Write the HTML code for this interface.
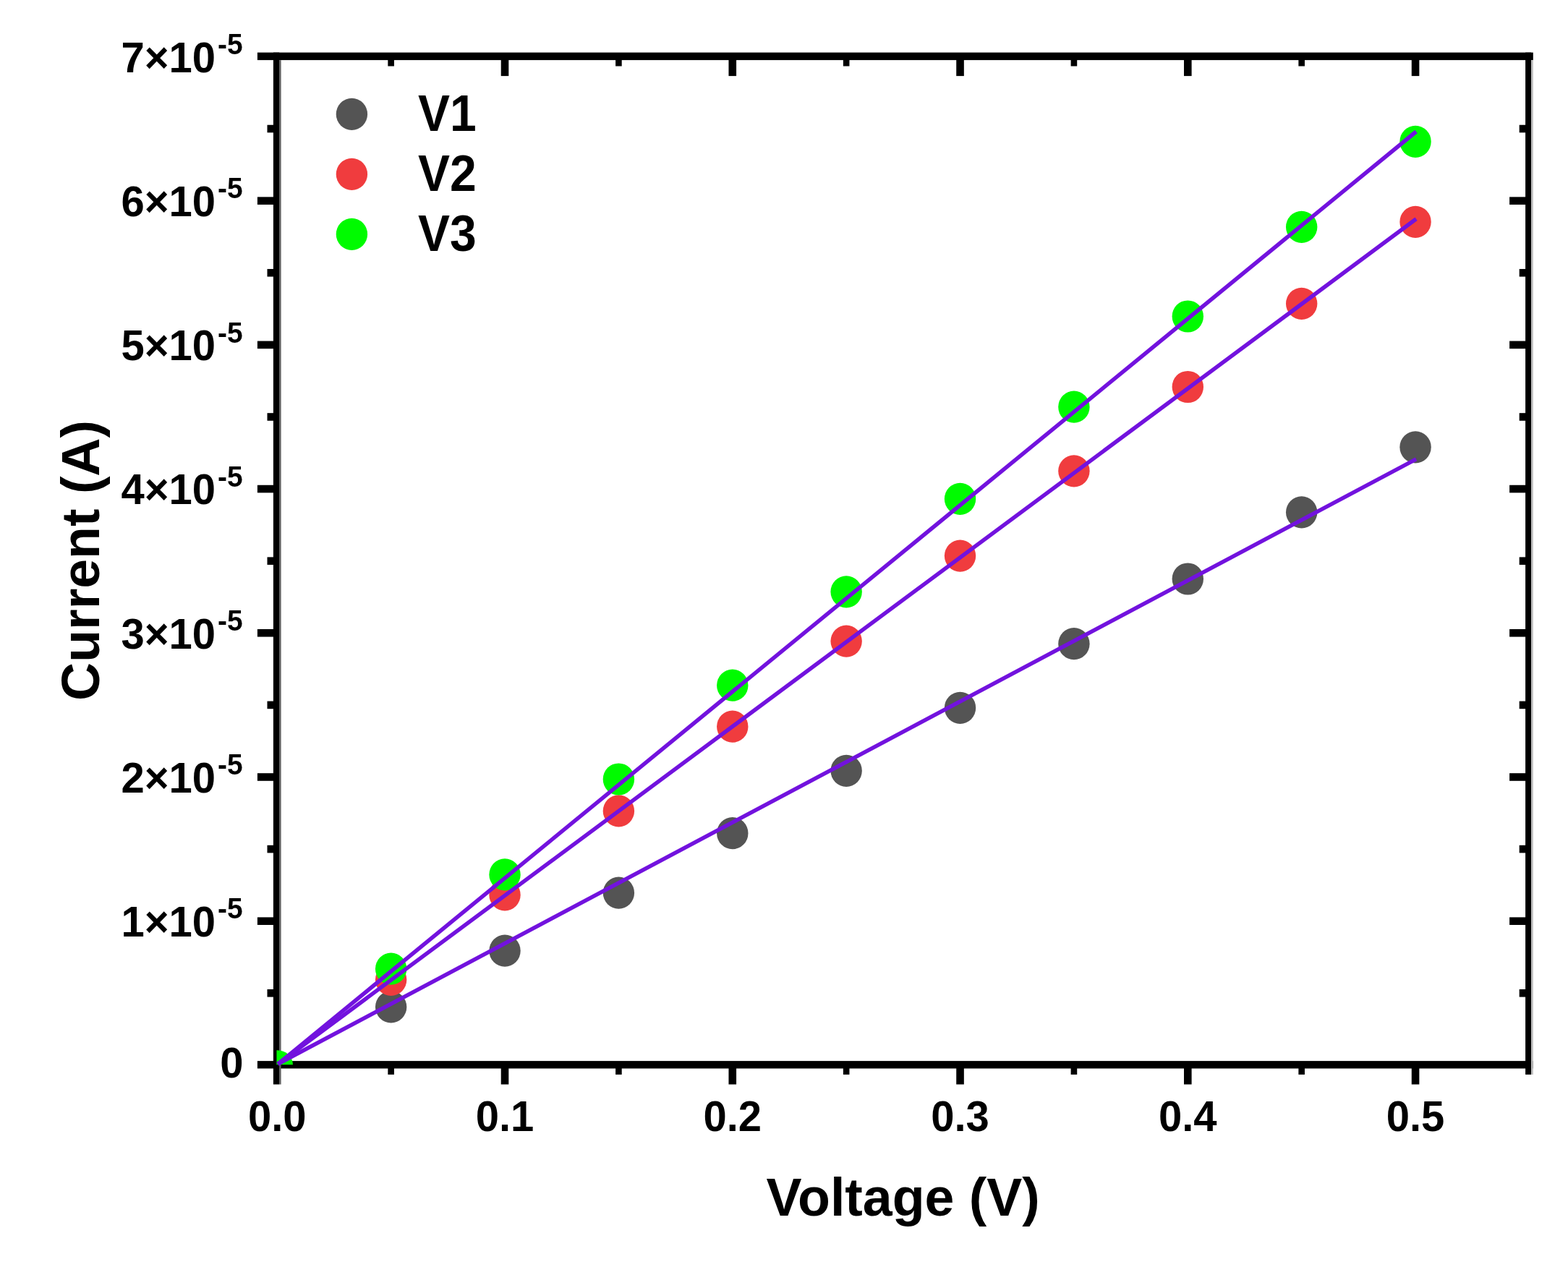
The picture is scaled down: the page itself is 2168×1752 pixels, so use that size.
<!DOCTYPE html>
<html lang="en"><head><meta charset="utf-8"><title>Current vs Voltage</title>
<style>html,body{margin:0;padding:0;background:#fff}body{width:2168px;height:1752px;overflow:hidden}svg{display:block;filter:blur(0.7px)}text{font-family:"Liberation Sans",sans-serif;font-weight:700;fill:#000}</style></head><body>
<svg width="2168" height="1752" viewBox="0 0 2168 1752" role="img" aria-label="Current versus voltage for V1, V2 and V3 with linear fits">
<rect width="2168" height="1752" fill="#fff"/>
<g id="markers">
<g fill="#545454">
<ellipse cx="540.63" cy="1392.4" rx="21.7" ry="22.1"/>
<ellipse cx="698.01" cy="1314.7" rx="21.7" ry="22.1"/>
<ellipse cx="855.39" cy="1234.6" rx="21.7" ry="22.1"/>
<ellipse cx="1012.77" cy="1152.2" rx="21.7" ry="22.1"/>
<ellipse cx="1170.15" cy="1065.8" rx="21.7" ry="22.1"/>
<ellipse cx="1327.53" cy="978.8" rx="21.7" ry="22.1"/>
<ellipse cx="1484.91" cy="890.2" rx="21.7" ry="22.1"/>
<ellipse cx="1642.29" cy="800.5" rx="21.7" ry="22.1"/>
<ellipse cx="1799.67" cy="708.4" rx="21.7" ry="22.1"/>
<ellipse cx="1957.05" cy="618.3" rx="21.7" ry="22.1"/>
</g>
<g fill="#f03c3e">
<ellipse cx="540.63" cy="1354.8" rx="21.7" ry="22.1"/>
<ellipse cx="698.01" cy="1237.4" rx="21.7" ry="22.1"/>
<ellipse cx="855.39" cy="1121.4" rx="21.7" ry="22.1"/>
<ellipse cx="1012.77" cy="1004.7" rx="21.7" ry="22.1"/>
<ellipse cx="1170.15" cy="886.6" rx="21.7" ry="22.1"/>
<ellipse cx="1327.53" cy="768.6" rx="21.7" ry="22.1"/>
<ellipse cx="1484.91" cy="651.3" rx="21.7" ry="22.1"/>
<ellipse cx="1642.29" cy="535" rx="21.7" ry="22.1"/>
<ellipse cx="1799.67" cy="419.9" rx="21.7" ry="22.1"/>
<ellipse cx="1957.05" cy="306.8" rx="21.7" ry="22.1"/>
</g>
<g fill="#00fb00">
<ellipse cx="540.63" cy="1339.7" rx="21.7" ry="22.1"/>
<ellipse cx="698.01" cy="1209.4" rx="21.7" ry="22.1"/>
<ellipse cx="855.39" cy="1077.5" rx="21.7" ry="22.1"/>
<ellipse cx="1012.77" cy="947.7" rx="21.7" ry="22.1"/>
<ellipse cx="1170.15" cy="818.3" rx="21.7" ry="22.1"/>
<ellipse cx="1327.53" cy="689.9" rx="21.7" ry="22.1"/>
<ellipse cx="1484.91" cy="562.7" rx="21.7" ry="22.1"/>
<ellipse cx="1642.29" cy="437.5" rx="21.7" ry="22.1"/>
<ellipse cx="1799.67" cy="313.9" rx="21.7" ry="22.1"/>
<ellipse cx="1957.05" cy="195.8" rx="21.7" ry="22.1"/>
</g>
</g>
<g id="axes" fill="#000">
<rect x="355.9" y="72.6" width="1763.9" height="10.5"/>
<rect x="355.9" y="1467.1" width="1763.9" height="10.4"/>
<rect x="377.9" y="72.6" width="8.2" height="1426.9"/>
<rect x="386.1" y="83.1" width="2.5" height="1416.4" fill="#5e5e5e"/>
<rect x="2109.1" y="72.6" width="7.9" height="1413.3"/>
<rect x="2117" y="83.1" width="2.8" height="1402.8" fill="#bdbdbd"/>
<rect x="369.5" y="1368" width="9.4" height="10.6"/>
<rect x="2100.7" y="1368" width="9.4" height="10.6"/>
<rect x="355.9" y="1268.39" width="23" height="10.6"/>
<rect x="2087.1" y="1268.39" width="23" height="10.6"/>
<rect x="369.5" y="1168.79" width="9.4" height="10.6"/>
<rect x="2100.7" y="1168.79" width="9.4" height="10.6"/>
<rect x="355.9" y="1069.19" width="23" height="10.6"/>
<rect x="2087.1" y="1069.19" width="23" height="10.6"/>
<rect x="369.5" y="969.58" width="9.4" height="10.6"/>
<rect x="2100.7" y="969.58" width="9.4" height="10.6"/>
<rect x="355.9" y="869.98" width="23" height="10.6"/>
<rect x="2087.1" y="869.98" width="23" height="10.6"/>
<rect x="369.5" y="770.38" width="9.4" height="10.6"/>
<rect x="2100.7" y="770.38" width="9.4" height="10.6"/>
<rect x="355.9" y="670.77" width="23" height="10.6"/>
<rect x="2087.1" y="670.77" width="23" height="10.6"/>
<rect x="369.5" y="571.17" width="9.4" height="10.6"/>
<rect x="2100.7" y="571.17" width="9.4" height="10.6"/>
<rect x="355.9" y="471.56" width="23" height="10.6"/>
<rect x="2087.1" y="471.56" width="23" height="10.6"/>
<rect x="369.5" y="371.96" width="9.4" height="10.6"/>
<rect x="2100.7" y="371.96" width="9.4" height="10.6"/>
<rect x="355.9" y="272.36" width="23" height="10.6"/>
<rect x="2087.1" y="272.36" width="23" height="10.6"/>
<rect x="369.5" y="172.75" width="9.4" height="10.6"/>
<rect x="2100.7" y="172.75" width="9.4" height="10.6"/>
<rect x="536.33" y="1476.5" width="8.6" height="9.4"/>
<rect x="536.33" y="82.1" width="8.6" height="9.4"/>
<rect x="692.71" y="1476.5" width="10.6" height="23"/>
<rect x="692.71" y="82.1" width="10.6" height="23"/>
<rect x="851.09" y="1476.5" width="8.6" height="9.4"/>
<rect x="851.09" y="82.1" width="8.6" height="9.4"/>
<rect x="1007.47" y="1476.5" width="10.6" height="23"/>
<rect x="1007.47" y="82.1" width="10.6" height="23"/>
<rect x="1165.85" y="1476.5" width="8.6" height="9.4"/>
<rect x="1165.85" y="82.1" width="8.6" height="9.4"/>
<rect x="1322.23" y="1476.5" width="10.6" height="23"/>
<rect x="1322.23" y="82.1" width="10.6" height="23"/>
<rect x="1480.61" y="1476.5" width="8.6" height="9.4"/>
<rect x="1480.61" y="82.1" width="8.6" height="9.4"/>
<rect x="1636.99" y="1476.5" width="10.6" height="23"/>
<rect x="1636.99" y="82.1" width="10.6" height="23"/>
<rect x="1795.37" y="1476.5" width="8.6" height="9.4"/>
<rect x="1795.37" y="82.1" width="8.6" height="9.4"/>
<rect x="1951.75" y="1476.5" width="10.6" height="23"/>
<rect x="1951.75" y="82.1" width="10.6" height="23"/>
</g>
<clipPath id="frame"><rect x="382.45" y="77.85" width="1731.98" height="1394.45"/></clipPath>
<ellipse cx="383.25" cy="1472.3" rx="21.7" ry="20.1" fill="#00fb00" clip-path="url(#frame)"/>
<g id="fits" stroke="#7212de" stroke-width="5.5" fill="none">
<line x1="384.25" y1="1471.3" x2="1958.05" y2="634.9"/>
<line x1="384.25" y1="1471.3" x2="1958.05" y2="302.8"/>
<line x1="384.25" y1="1471.3" x2="1958.05" y2="182"/>
</g>
<g id="xlabels">
<text transform="translate(383.25,1563.8) scale(1,1.03)" font-size="58" text-anchor="middle">0.0</text>
<text transform="translate(698.01,1563.8) scale(1,1.03)" font-size="58" text-anchor="middle">0.1</text>
<text transform="translate(1012.77,1563.8) scale(1,1.03)" font-size="58" text-anchor="middle">0.2</text>
<text transform="translate(1327.53,1563.8) scale(1,1.03)" font-size="58" text-anchor="middle">0.3</text>
<text transform="translate(1642.29,1563.8) scale(1,1.03)" font-size="58" text-anchor="middle">0.4</text>
<text transform="translate(1957.05,1563.8) scale(1,1.03)" font-size="58" text-anchor="middle">0.5</text>
</g>
<g id="ylabels">
<text transform="translate(336.6,1490) scale(1,1.03)" font-size="58" text-anchor="end">0</text>
<text transform="translate(298,1295.09) scale(1,1.03)" font-size="58" text-anchor="end">1×10</text>
<text transform="translate(335.6,1270.49) scale(1,1.05)" font-size="39" text-anchor="end">-5</text>
<text transform="translate(298,1095.89) scale(1,1.03)" font-size="58" text-anchor="end">2×10</text>
<text transform="translate(335.6,1071.29) scale(1,1.05)" font-size="39" text-anchor="end">-5</text>
<text transform="translate(298,896.68) scale(1,1.03)" font-size="58" text-anchor="end">3×10</text>
<text transform="translate(335.6,872.08) scale(1,1.05)" font-size="39" text-anchor="end">-5</text>
<text transform="translate(298,697.47) scale(1,1.03)" font-size="58" text-anchor="end">4×10</text>
<text transform="translate(335.6,672.87) scale(1,1.05)" font-size="39" text-anchor="end">-5</text>
<text transform="translate(298,498.26) scale(1,1.03)" font-size="58" text-anchor="end">5×10</text>
<text transform="translate(335.6,473.66) scale(1,1.05)" font-size="39" text-anchor="end">-5</text>
<text transform="translate(298,299.06) scale(1,1.03)" font-size="58" text-anchor="end">6×10</text>
<text transform="translate(335.6,274.46) scale(1,1.05)" font-size="39" text-anchor="end">-5</text>
<text transform="translate(298,99.85) scale(1,1.03)" font-size="58" text-anchor="end">7×10</text>
<text transform="translate(335.6,75.25) scale(1,1.05)" font-size="39" text-anchor="end">-5</text>
</g>
<g id="legend">
<ellipse cx="486.4" cy="157.9" rx="21.7" ry="22.1" fill="#545454"/>
<text transform="translate(578.1,181.2) scale(1,1.07)" font-size="66">V1</text>
<ellipse cx="486.4" cy="240.9" rx="21.7" ry="22.1" fill="#f03c3e"/>
<text transform="translate(578.1,264.2) scale(1,1.07)" font-size="66">V2</text>
<ellipse cx="486.4" cy="323.9" rx="21.7" ry="22.1" fill="#00fb00"/>
<text transform="translate(578.1,347.2) scale(1,1.07)" font-size="66">V3</text>
</g>
<text transform="translate(1248.6,1680.9) scale(1,1.01)" font-size="73.5" text-anchor="middle">Voltage (V)</text>
<text transform="translate(137.4,775) rotate(-90) scale(1,1.01)" font-size="73.5" text-anchor="middle">Current (A)</text>
</svg></body></html>
